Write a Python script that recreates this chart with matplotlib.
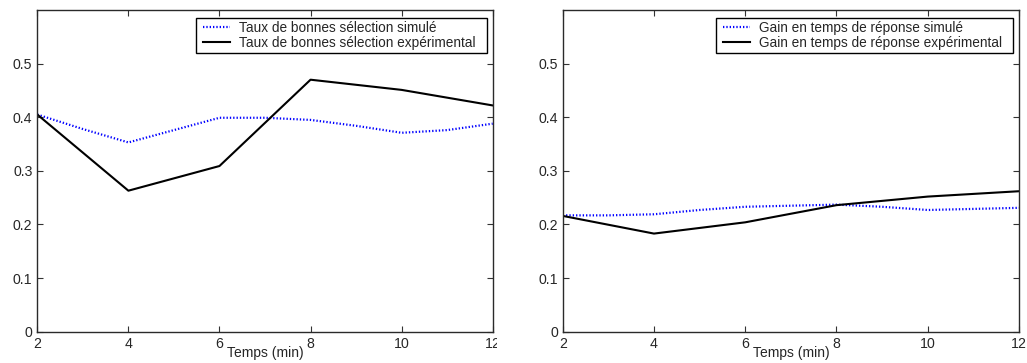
import matplotlib
matplotlib.use("Agg")
import matplotlib.pyplot as plt
from matplotlib.patches import Rectangle
from matplotlib.transforms import IdentityTransform

plt.rcParams['font.family'] = ['Liberation Sans', 'DejaVu Sans']

# Data
temps = [2, 4, 6, 8, 10, 12]
temps_sim = [2, 3, 4, 5, 6, 7, 8, 9, 10, 11, 12]

sel_exp = [0.405, 0.263, 0.309, 0.470, 0.451, 0.422]
sel_sim = [0.405, 0.378, 0.353, 0.376, 0.399, 0.399, 0.395, 0.384, 0.371, 0.376, 0.388]

gain_exp = [0.216, 0.183, 0.204, 0.236, 0.252, 0.262]
gain_sim = [0.217, 0.217, 0.219, 0.227, 0.233, 0.235, 0.237, 0.233, 0.227, 0.229, 0.231]

labels_left = ["Taux de bonnes sélection simulé", "Taux de bonnes sélection expérimental"]
labels_right = ["Gain en temps de réponse simulé", "Gain en temps de réponse expérimental"]
xlabel = "Temps (min)"
xticks = [2, 4, 6, 8, 10, 12]
yticks = [0, 0.1, 0.2, 0.3, 0.4, 0.5]
yticklabels = ["0", "0.1", "0.2", "0.3", "0.4", "0.5"]

W, H = 1027, 363
fig = plt.figure(figsize=(W / 100, H / 100), dpi=100)

def px_axes(x0, x1, y0, y1):
    return fig.add_axes([x0 / W, 1 - y1 / H, (x1 - x0) / W, (y1 - y0) / H])

axL = px_axes(37.3, 492.7, 10, 331.7)
axR = px_axes(562.7, 1019, 10, 331.7)

text_col = '#262626'
legends = []
for ax, xs, ys_sim, ys_exp, labs in [
    (axL, temps_sim, sel_sim, sel_exp, labels_left),
    (axR, temps_sim, gain_sim, gain_exp, labels_right),
]:
    ax.plot(xs, ys_sim, color='#0000ff', linestyle=(0, (0.6, 0.9)), linewidth=1.6, label=labs[0])
    ax.plot(temps, ys_exp, color='black', linestyle='-', linewidth=1.5, label=labs[1])
    ax.set_xlim(2, 12)
    ax.set_ylim(0, 0.6)
    ax.set_autoscale_on(False)
    ax.set_xticks(xticks)
    ax.set_yticks(yticks)
    ax.set_yticklabels(yticklabels)
    ax.tick_params(direction='in', length=4.5, width=0.8, top=True, right=True,
                   labelsize=10.2, colors='#333333', labelcolor=text_col, pad=3.5)
    for s in ax.spines.values():
        s.set_linewidth(1.0)
        s.set_color('#2a2a2a')
    ax.set_xlabel(xlabel, fontsize=10, color=text_col)
    ax.xaxis.set_label_coords(0.5, -0.045)
    axw = ax.get_position().width * W
    axh = ax.get_position().height * H
    leg = ax.legend(loc='upper right', bbox_to_anchor=(1 - 14 / axw, 1 - 7.5 / axh),
                    borderaxespad=0, fontsize=9.8, frameon=False,
                    handlelength=2.0, handletextpad=0.65,
                    borderpad=0.23, labelspacing=0.12)
    leg.set_zorder(6)
    for t in leg.get_texts():
        t.set_color(text_col)
    legends.append((ax, leg))

# legend frames with MATLAB-like asymmetric padding
fig.canvas.draw()
for ax, leg in legends:
    bb = leg.get_window_extent()
    r = Rectangle((bb.x0 - 4, bb.y0), bb.width + 12, bb.height,
                  transform=IdentityTransform(), facecolor='white',
                  edgecolor='black', linewidth=1.0, zorder=5)
    ax.add_artist(r)

# clip at panel boundary, like the original screenshot
fig.patches.append(Rectangle((497 / W, 0), (520 - 497) / W, 1, transform=fig.transFigure,
                             facecolor='white', edgecolor='none', zorder=5))

fig.savefig('out.png', dpi=100)
